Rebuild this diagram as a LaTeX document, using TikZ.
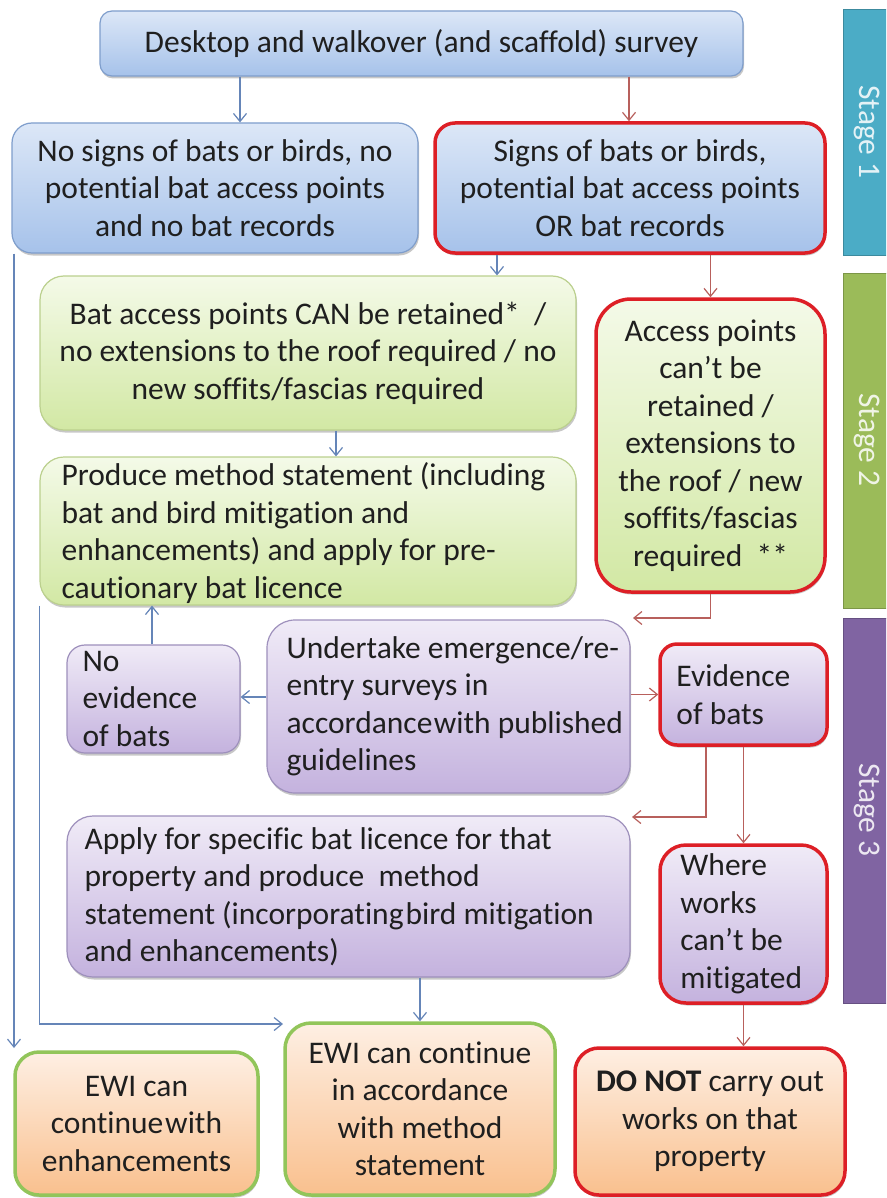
\documentclass[tikz,border=0pt]{standalone}
\usepackage{fontspec}
\setmainfont{Carlito}[Ligatures=NoCommon]
\usetikzlibrary{arrows.meta,shadows}

\definecolor{bluetop}{HTML}{DCE7F7}
\definecolor{bluebot}{HTML}{A6C2EA}
\definecolor{blueline}{HTML}{7F9ECC}
\definecolor{greentop}{HTML}{F4FAE8}
\definecolor{greenbot}{HTML}{D2E8A4}
\definecolor{greenline}{HTML}{BBD08E}
\definecolor{purptop}{HTML}{F0EBF7}
\definecolor{purpbot}{HTML}{C4B2DE}
\definecolor{purpline}{HTML}{9E90BC}
\definecolor{orantop}{HTML}{FEEFE3}
\definecolor{oranbot}{HTML}{F9C08E}
\definecolor{rimred}{HTML}{DD1F26}
\definecolor{rimgreen}{HTML}{92C55A}
\definecolor{arrblue}{HTML}{6585B8}
\definecolor{arrred}{HTML}{B8605C}
\definecolor{stageone}{HTML}{4BACC6}
\definecolor{stagetwo}{HTML}{9BBB59}
\definecolor{stagethree}{HTML}{8064A2}

\tikzset{
  every node/.style={font=\fontsize{31.5}{37.5}\selectfont, text=black!88},
  box/.style={draw, rounded corners=#1, inner sep=0pt, line width=1.2pt, align=center,
    drop shadow={shadow xshift=1pt, shadow yshift=-2.5pt, opacity=0.22, fill=black}},
  box/.default=20pt,
  bluebox/.style={top color=bluetop, bottom color=bluebot, draw=blueline},
  greenbox/.style={top color=greentop, bottom color=greenbot, draw=greenline},
  purplebox/.style={top color=purptop, bottom color=purpbot, draw=purpline},
  orangebox/.style={top color=orantop, bottom color=oranbot},
  redrim/.style={draw=rimred, line width=3.5pt},
  greenrim/.style={draw=rimgreen, line width=3.5pt},
  lefttext/.style={anchor=west, align=left, inner sep=0pt},
  conn/.style={line width=1.2pt, -{Straight Barb[length=8pt,width=13pt,line width=1.2pt]}},
  bconn/.style={conn, draw=arrblue},
  rconn/.style={conn, draw=arrred},
  stagebar/.style={draw=#1!80!black, line width=1pt, fill=#1},
  stagelabel/.style={rotate=-90, text=white, text opacity=0.85, inner sep=0pt}
}

\begin{document}
\begin{tikzpicture}[x=1pt,y=-1pt]
\useasboundingbox (0,0) rectangle (886,1198);
\clip (0,0) rectangle (886,1198);

% stage bars on the right
\fill[white] (0,0) rectangle (886,1198);
\draw[stagebar=stageone]   (843,10)  rectangle (892,255);
\draw[stagebar=stagetwo]   (843,273) rectangle (892,608);
\draw[stagebar=stagethree] (843,618) rectangle (892,1003);
\node[stagelabel] (s1) at (867,132) {Stage 1};
\node[stagelabel] (s2) at (867,440) {Stage 2};
\node[stagelabel] (s3) at (867,810) {Stage 3};

% stage 1
\node[box=12pt, bluebox, minimum width=643pt, minimum height=65pt] (desk) at (421.5,43.5)
  {Desktop and walkover (and scaffold) survey};
\node[box=20pt, bluebox, minimum width=406pt, minimum height=130pt] (nosig) at (215,188)
  {No signs of bats or birds, no\\potential bat access points\\and no bat records};
\node[box=20pt, bluebox, redrim, minimum width=390pt, minimum height=130pt] (sig) at (630,188)
  {Signs of bats or birds,\\potential bat access points\\OR bat records};

% stage 2
\node[box=24pt, greenbox, minimum width=536pt, minimum height=154pt] (can) at (308,353)
  {Bat access points CAN be retained* \ /\\no extensions to the roof required / no\\new soffits/fascias required};
\node[box=35pt, greenbox, redrim, minimum width=229pt, minimum height=293pt] (cant) at (710.5,445.5)
  {Access points\\can’t be\\retained /\\extensions to\\the roof / new\\soffits/fascias\\required \ **};
\node[box=24pt, greenbox, minimum width=536pt, minimum height=148pt] (prod) at (308,531) {};
\node[lefttext] (prodt) at ([xshift=22pt,yshift=-2pt]prod.west)
  {Produce method statement (including\\bat and bird mitigation and\\enhancements) and apply for pre-\\cautionary bat licence};

% stage 3
\node[box=28pt, purplebox, minimum width=363pt, minimum height=173pt] (und) at (448.5,706.5) {};
\node[lefttext] (undt) at ([xshift=20pt]und.west)
  {Undertake emergence/re-\\entry surveys in\\accordance\hspace{1.5pt}with published\\guidelines};
\node[box=18pt, purplebox, minimum width=173pt, minimum height=108pt] (noev) at (153.5,699) {};
\node[lefttext] (noevt) at ([xshift=16pt]noev.west) {No\\evidence\\of bats};
\node[box=17pt, purplebox, redrim, minimum width=167pt, minimum height=101pt] (ev) at (743.5,694.5) {};
\node[lefttext] (evt) at ([xshift=18pt]ev.west) {Evidence\\of bats};
\node[box=26pt, purplebox, minimum width=563pt, minimum height=161pt] (apply) at (348.5,896.5) {};
\node[lefttext] (applyt) at ([xshift=18pt]apply.west)
  {Apply for specific bat licence for that\\property and produce \ method\\statement (incorporating\hspace{2pt}bird mitigation\\and enhancements)};
\node[box=26pt, purplebox, redrim, minimum width=167pt, minimum height=158pt] (where) at (743.5,924) {};
\node[lefttext] (wheret) at ([xshift=22pt]where.west) {Where\\works\\can’t be\\mitigated};

% outcomes
\node[box=24pt, orangebox, greenrim, minimum width=243pt, minimum height=143pt] (ewie) at (136.5,1123.5)
  {EWI can\\continue\hspace{2pt}with\\enhancements};
\node[box=26pt, orangebox, greenrim, minimum width=270pt, minimum height=172pt] (ewim) at (420,1109)
  {EWI can continue\\in accordance\\with method\\statement};
\node[box=24pt, orangebox, redrim, minimum width=270pt, minimum height=147pt] (donot) at (710,1121.5)
  {\textbf{DO NOT} carry out\\works on that\\property};

% free ends of the elbow connectors
\coordinate (c1) at (633,618);
\coordinate (c2) at (632,817);
\coordinate (c3) at (283,1024);
\coordinate (c4) at (14,1048);

% connectors
\draw[bconn] (desk.south -| 240,0) -- (nosig.north -| 240,0);
\draw[rconn] (desk.south -| 629,0) -- (sig.north -| 629,0);
\draw[bconn] (sig.south -| 497,0) -- (can.north -| 497,0);
\draw[rconn] (sig.south -| cant.north) -- (cant.north);
\draw[bconn] (can.south -| 336,0) -- (prod.north -| 336,0);
\draw[rconn] (cant.south) |- (c1);
\draw[bconn] (und.west |- 0,697) -- (noev.east |- 0,697);
\draw[bconn] (noev.north -| 152,0) -- (prod.south -| 152,0);
\draw[rconn] (und.east |- ev.west) -- (ev.west);
\draw[rconn] (ev.south -| 706,0) |- (c2);
\draw[rconn] (ev.south) -- (where.north);
\draw[bconn] (apply.south -| ewim.north) -- (ewim.north);
\draw[rconn] (where.south) -- (donot.north -| where.south);
\draw[bconn] (prod.south west) |- (c3);
\draw[bconn] (nosig.south -| c4) -- (c4);
\end{tikzpicture}
\end{document}
